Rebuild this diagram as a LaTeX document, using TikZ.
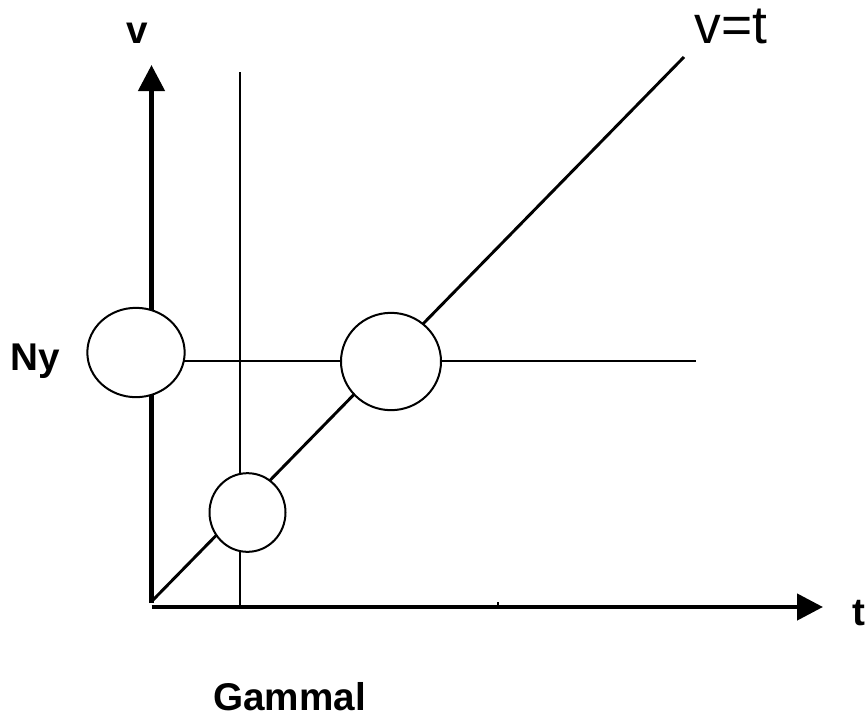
\documentclass[tikz,border=0pt]{standalone}
\usepackage{fontspec}
\setmainfont{Liberation Sans}
\usetikzlibrary{arrows.meta,shapes.geometric}
\tikzset{
  axis/.style={line width=3.4pt,-{Triangle[length=19.5pt,width=19.5pt]}},
  diag/.style={line width=2.2pt},
  thin/.style={line width=1.5pt},
  ring/.style={ellipse,draw,line width=1.5pt,fill=white,inner sep=0pt},
  lab/.style={font=\fontsize{29}{34}\selectfont\bfseries,inner sep=0pt},
  biglab/.style={font=\fontsize{40}{46}\selectfont,inner sep=0pt}
}
\begin{document}
\begin{tikzpicture}[x=0.75pt,y=-0.75pt]
\useasboundingbox (0,0) rectangle (868,718);
% coordinates
\coordinate (o) at (151.5,607);
\coordinate (ov) at (151.5,603);
\coordinate (vtip) at (151.5,65);
\coordinate (ttip) at (823,607);
\coordinate (d0) at (153,600);
\coordinate (d1) at (684,57);
\coordinate (g0) at (240,72);
\coordinate (g1) at (240,609);
\coordinate (h0) at (152,361);
\coordinate (h1) at (696,361);
\coordinate (k0) at (498,607);
\coordinate (k1) at (498,602);
% lines
\draw[thin] (g0) -- (g1);
\draw[thin] (h0) -- (h1);
\draw[diag] (d0) -- (d1);
\draw[axis] (ov) -- (vtip);
\draw[axis] (o) -- (ttip);
\draw[thin] (k0) -- (k1);
% ellipses
\node[ring,minimum width=73,minimum height=67] (eL) at (136,352.5) {};
\node[ring,minimum width=75,minimum height=73] (eM) at (391,361.5) {};
\node[ring,minimum width=57,minimum height=59] (eB) at (247.5,512.5) {};
% labels
\node[lab,anchor=base] (lv) at (137,43) {v};
\node[biglab,anchor=base] (lvt) at (731,43) {v=t};
\node[lab,anchor=base east] (lny) at (60,370) {Ny};
\node[lab,anchor=base] (lt) at (859,625) {t};
\node[lab,anchor=base west] (lg) at (213,710) {Gammal};
\end{tikzpicture}
\end{document}
